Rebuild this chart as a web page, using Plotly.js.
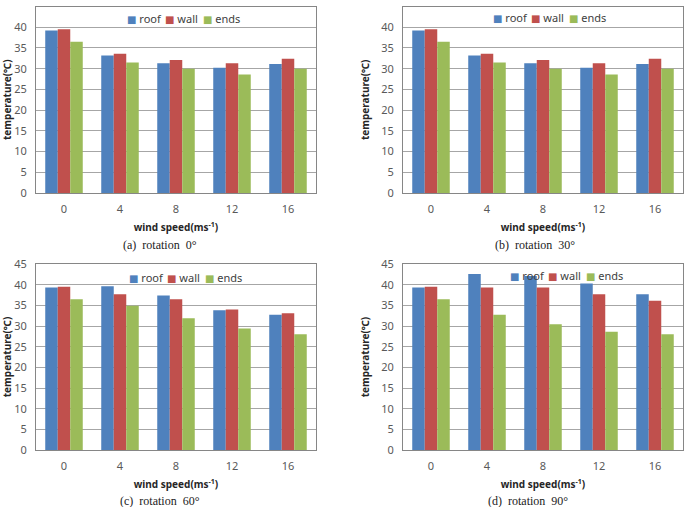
<!DOCTYPE html>
<html><head><meta charset="utf-8">
<script src="https://cdn.plot.ly/plotly-3.0.1.min.js"></script>
<style>html,body{margin:0;padding:0;background:#fff}#chart{width:687px;height:507px}</style>
</head><body><div id="chart"></div>
<script>
// ---- data ----
const windSpeeds = ['0', '4', '8', '12', '16'];
const seriesNames = ['roof', 'wall', 'ends'];

const roof0 = [39.2, 33.2, 31.3, 30.2, 31.1];
const wall0 = [39.5, 33.6, 32.1, 31.3, 32.4];
const ends0 = [36.5, 31.5, 30.0, 28.6, 30.0];

const roof30 = [39.2, 33.2, 31.3, 30.2, 31.1];
const wall30 = [39.5, 33.6, 32.1, 31.3, 32.4];
const ends30 = [36.5, 31.5, 30.0, 28.6, 30.0];

const roof60 = [39.3, 39.6, 37.4, 33.8, 32.7];
const wall60 = [39.5, 37.7, 36.5, 34.0, 33.1];
const ends60 = [36.5, 34.9, 31.9, 29.4, 28.0];

const roof90 = [39.3, 42.6, 42.1, 40.3, 37.7];
const wall90 = [39.5, 39.3, 39.3, 37.7, 36.1];
const ends90 = [36.5, 32.7, 30.4, 28.6, 28.0];

const captions = ['(a)  rotation  0°', '(b)  rotation  30°', '(c)  rotation  60°', '(d)  rotation  90°'];
const yTitle = 'temperature(℃)';
const xTitle = 'wind speed(ms<sup>-1</sup>)';

// ---- layout geometry (pixels) ----
const W = 687, H = 507;
const px = v => v / W;
const py = v => 1 - v / H;
const panels = [
  {l: 36, r: 316, t: 6.5, b: 193, lx: 125, ly: 19, cx: 160, cy: 245},
  {l: 403, r: 683, t: 6.5, b: 193, lx: 491, ly: 18, cx: 535, cy: 245},
  {l: 36, r: 316, t: 264, b: 450, lx: 127, ly: 277, cx: 160, cy: 501},
  {l: 403, r: 683, t: 264, b: 450, lx: 508, ly: 275, cx: 528, cy: 501}
];
const legendStep = [0, 37.5, 76];
const colors = ['#4F81BD', '#C0504D', '#9BBB59'];
const panelData = [[roof0, wall0, ends0], [roof30, wall30, ends30], [roof60, wall60, ends60], [roof90, wall90, ends90]];

const traces = [];
const layout = {
  width: W, height: H,
  margin: {l: 0, r: 0, t: 0, b: 0},
  paper_bgcolor: '#fff', plot_bgcolor: '#fff',
  barmode: 'group', bargap: 0.33, bargroupgap: 0,
  showlegend: false,
  font: {family: 'Noto Sans, DejaVu Sans, sans-serif', size: 11, color: '#595959'},
  annotations: []
};

panels.forEach((p, i) => {
  const n = i + 1;
  const xa = n === 1 ? 'x' : 'x' + n;
  const ya = n === 1 ? 'y' : 'y' + n;
  panelData[i].forEach((vals, k) => {
    traces.push({
      type: 'bar', x: windSpeeds, y: vals, name: seriesNames[k],
      xaxis: xa, yaxis: ya,
      marker: {color: colors[k], line: {width: 0}},
      hoverinfo: 'x+y+name'
    });
    // legend entry (Excel-style, inside plot top)
    layout.annotations.push({
      text: '<span style="color:' + colors[k] + ';font-size:10px">■</span> ' + seriesNames[k],
      xref: 'paper', yref: 'paper', x: px(p.lx + legendStep[k]), y: py(p.ly),
      xanchor: 'left', yanchor: 'middle', showarrow: false,
      font: {family: 'Noto Sans, DejaVu Sans, sans-serif', size: 11, color: '#404040'}
    });
  });
  layout['xaxis' + (n === 1 ? '' : n)] = {
    domain: [px(p.l), px(p.r)], anchor: ya, type: 'category',
    showline: true, mirror: true, linecolor: '#868686', linewidth: 1,
    showgrid: false, ticks: '', ticklabelstandoff: 6,
    tickfont: {size: 11, color: '#595959'},
    title: {text: xTitle, standoff: 8, font: {size: 10, color: '#262626', family: 'Noto Sans, DejaVu Sans, sans-serif', weight: 'bold'}},
    automargin: false, fixedrange: true
  };
  layout['yaxis' + (n === 1 ? '' : n)] = {
    domain: [py(p.b), py(p.t)], anchor: xa, range: [0, 45], dtick: 5,
    showline: true, mirror: true, linecolor: '#868686', linewidth: 1,
    showgrid: true, gridcolor: '#a6a6a6', gridwidth: 1, zeroline: false,
    ticks: '', ticklabelstandoff: 6,
    tickfont: {size: 11, color: '#595959'},
    title: {text: yTitle, standoff: 9, font: {size: 10, color: '#262626', family: 'Noto Sans, DejaVu Sans, sans-serif', weight: 'bold'}},
    automargin: false, fixedrange: true
  };
  layout.annotations.push({
    text: captions[i], xref: 'paper', yref: 'paper', x: px(p.cx), y: py(p.cy),
    xanchor: 'center', yanchor: 'middle', showarrow: false,
    font: {family: 'Liberation Serif, Times New Roman, serif', size: 12, color: '#222'}
  });
});

Plotly.newPlot('chart', traces, layout, {displayModeBar: false});
</script>
</body></html>
